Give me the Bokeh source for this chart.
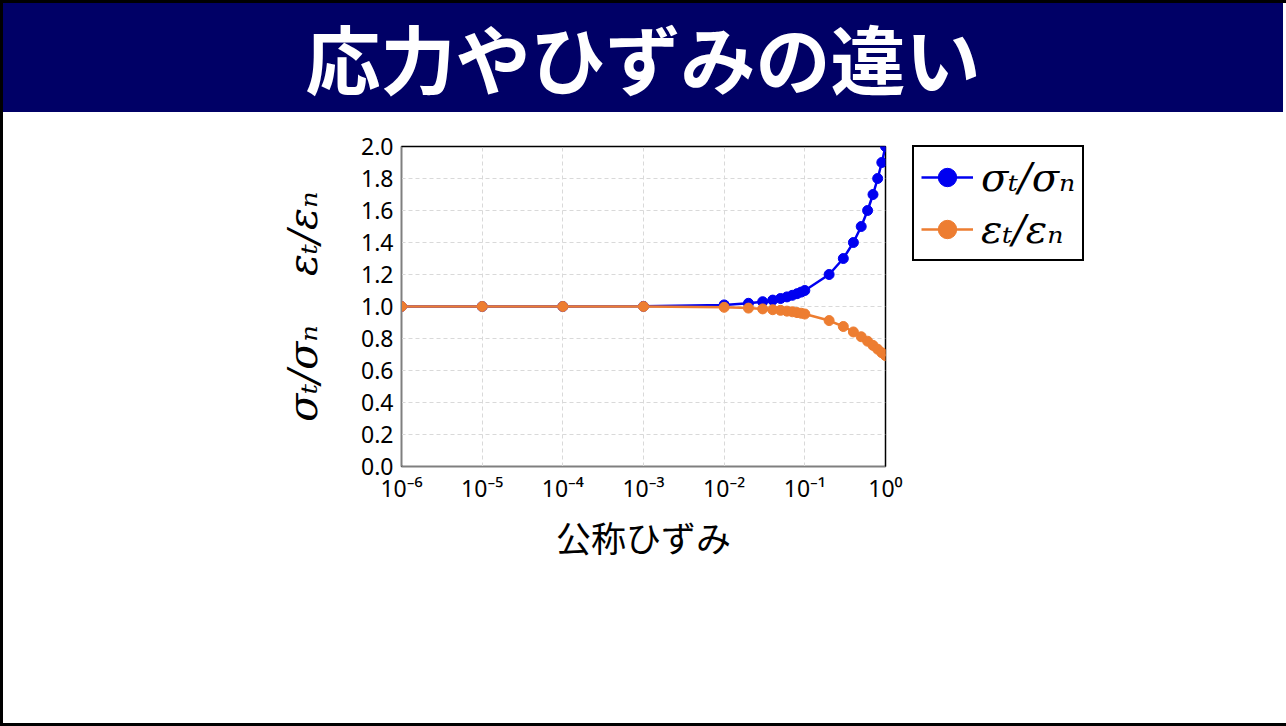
from bokeh.plotting import figure
from bokeh.models import Div, FixedTicker, Legend, LegendItem, ColumnDataSource
from bokeh.layouts import column
from bokeh.embed import file_html
from bokeh.resources import INLINE

# ---- data ----
strain = [1e-6, 1e-5, 1e-4, 1e-3, 1e-2, 0.02, 0.03, 0.04, 0.05, 0.06, 0.07, 0.08, 0.09,
          0.1, 0.2, 0.3, 0.4, 0.5, 0.6, 0.7, 0.8, 0.9, 1.0]
stress_ratio = [1.0, 1.0, 1.0, 1.001, 1.01, 1.02, 1.03, 1.04, 1.05, 1.06, 1.07, 1.08, 1.09,
                1.1, 1.2, 1.3, 1.4, 1.5, 1.6, 1.7, 1.8, 1.9, 2.0]
strain_ratio = [1.0, 1.0, 1.0, 1.0, 0.995, 0.99, 0.985, 0.98, 0.976, 0.971, 0.967, 0.962, 0.958,
                0.953, 0.912, 0.875, 0.841, 0.811, 0.783, 0.757, 0.733, 0.711, 0.693]
x_ticks = [1e-6, 1e-5, 1e-4, 1e-3, 1e-2, 1e-1, 1.0]
x_tick_labels = ["10⁻⁶", "10⁻⁵", "10⁻⁴", "10⁻³", "10⁻²", "10⁻¹", "10⁰"]
y_ticks = [0.0, 0.2, 0.4, 0.6, 0.8, 1.0, 1.2, 1.4, 1.6, 1.8, 2.0]
title_text = "応力やひずみの違い"
x_label = "公称ひずみ"
y_label = "σₜ/σₙ\u2003\u2009εₜ/εₙ"
series_names = ["σₜ/σₙ", "εₜ/εₙ"]

BLUE = "#0000f0"
ORANGE = "#ed7d31"

src = ColumnDataSource(dict(x=strain, s=stress_ratio, e=strain_ratio))

p = figure(frame_width=484, frame_height=320, x_axis_type="log", x_range=(1e-6, 1.0),
           y_range=(0, 2), output_backend="svg", toolbar_location=None,
           min_border_left=398, min_border_right=40, min_border_top=34, min_border_bottom=257)
p.margin = 0

l1 = p.line("x", "s", source=src, line_color=BLUE, line_width=2.5)
m1 = p.scatter("x", "s", source=src, size=10, fill_color=BLUE, line_color=BLUE)
l2 = p.line("x", "e", source=src, line_color=ORANGE, line_width=2.5)
m2 = p.scatter("x", "e", source=src, size=10, fill_color=ORANGE, line_color=ORANGE)

p.xaxis.ticker = FixedTicker(ticks=x_ticks, minor_ticks=[])
p.xaxis.major_label_overrides = {t: lab for t, lab in zip(x_ticks, x_tick_labels)}
p.yaxis.ticker = FixedTicker(ticks=y_ticks, minor_ticks=[])
p.yaxis.major_label_overrides = {t: f"{t:.1f}" for t in y_ticks}

for ax in (p.xaxis[0], p.yaxis[0]):
    ax.major_tick_out = 0
    ax.major_tick_in = 0
    ax.minor_tick_out = 0
    ax.minor_tick_in = 0
    ax.axis_line_color = "#7f7f7f"
    ax.major_label_text_font = "Noto Sans"
    ax.major_label_text_font_size = "23px"
    ax.major_label_text_color = "black"

p.xaxis.major_label_standoff = 5
p.yaxis.major_label_standoff = 8

p.xaxis.axis_label = x_label
p.xaxis.axis_label_text_font = "Noto Sans CJK JP"
p.xaxis.axis_label_text_font_size = "35px"
p.xaxis.axis_label_text_font_style = "normal"
p.xaxis.axis_label_text_color = "black"
p.xaxis.axis_label_standoff = 4

p.yaxis.axis_label = y_label
p.yaxis.axis_label_text_font = "DejaVu Serif"
p.yaxis.axis_label_text_font_size = "41px"
p.yaxis.axis_label_text_font_style = "italic"
p.yaxis.axis_label_text_color = "black"
p.yaxis.axis_label_standoff = 31

p.xgrid.grid_line_color = "#d9d9d9"
p.xgrid.grid_line_dash = "4 3"
p.ygrid.grid_line_color = "#d9d9d9"
p.ygrid.grid_line_dash = "4 3"

p.outline_line_color = "black"
p.outline_line_width = 1.5
p.background_fill_color = "white"
p.border_fill_color = "white"

legend = Legend(items=[LegendItem(label=series_names[0], renderers=[l1, m1]),
                       LegendItem(label=series_names[1], renderers=[l2, m2])],
                location=(27, 205))
legend.border_line_color = "black"
legend.border_line_alpha = 1.0
legend.border_line_width = 2
legend.label_text_font = "DejaVu Serif"
legend.label_text_font_style = "italic"
legend.label_text_font_size = "40px"
legend.label_text_color = "black"
legend.glyph_width = 52
legend.glyph_height = 46
legend.label_height = 46
legend.spacing = 6
legend.padding = 7
legend.margin = 0
legend.label_standoff = 8
p.add_layout(legend, "right")

header = Div(text=title_text, width=1280, height=109, margin=0,
             styles={"background-color": "#000066", "color": "white",
                     "font-family": "'Noto Sans CJK JP'", "font-size": "75px",
                     "font-weight": "bold", "text-align": "center",
                     "line-height": "108px"})

layout = column(header, p, spacing=0, margin=0, styles={"border": "3px solid black"})

html = file_html(layout, INLINE)
html = html.replace("<body>", '<body style="margin:0;padding:0;">')
open("out.html", "w").write(html)
